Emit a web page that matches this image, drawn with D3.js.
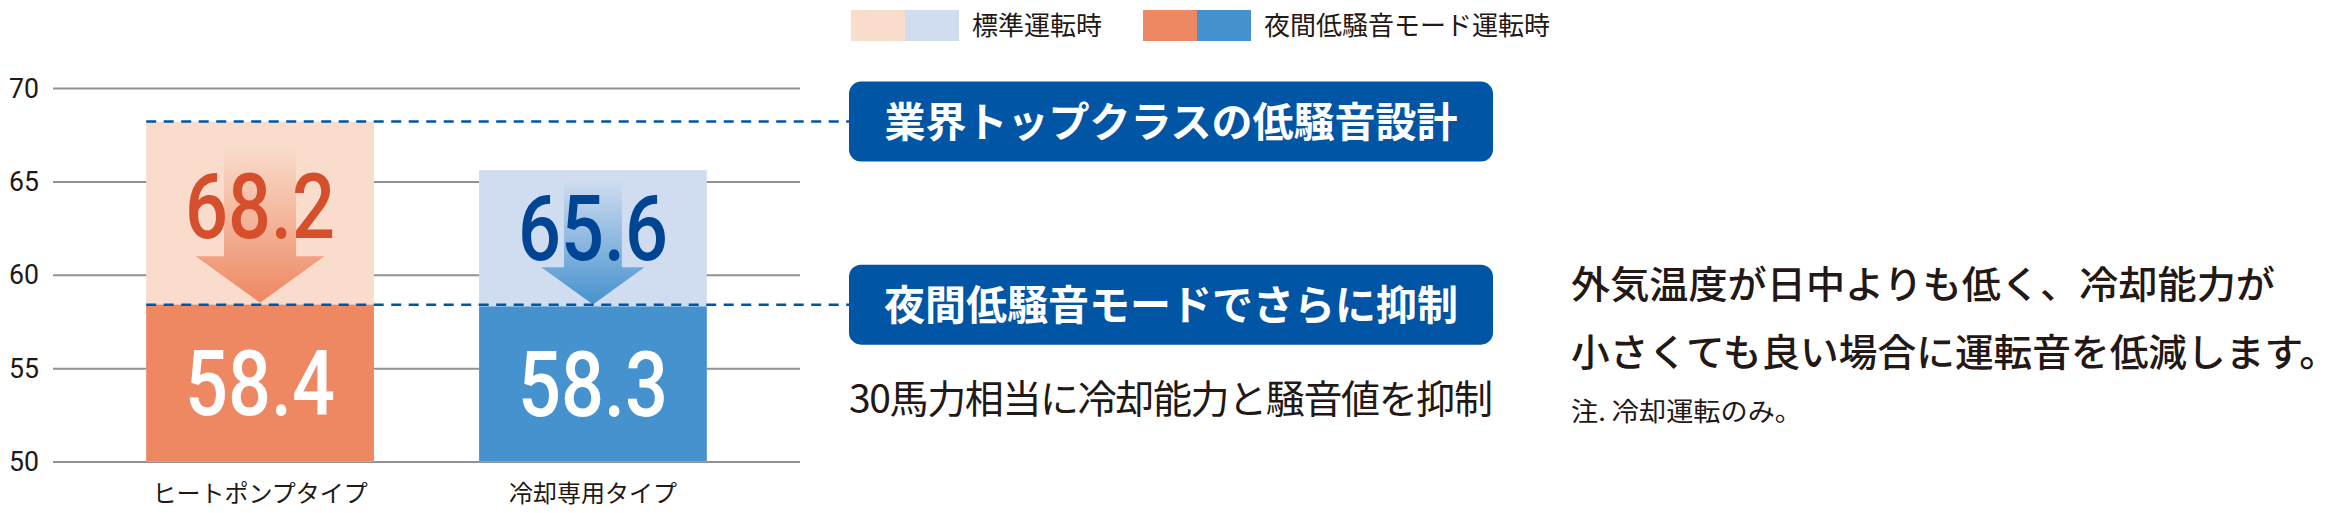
<!DOCTYPE html>
<html>
<head>
<meta charset="utf-8">
<script src="https://cdn.jsdelivr.net/npm/d3@7"></script>
<style>
    body { margin: 0; background: #fff; }
    text { font-family: "Noto Sans CJK JP", "Noto Sans", sans-serif; }
</style>
</head>
<body>
<div id="canvas"></div>
<script>
"use strict"

// chart values
const categories = ["ヒートポンプタイプ", "冷却専用タイプ"]
const standardValues = [68.2, 65.6]
const nightValues = [58.4, 58.3]
const yTicks = [50, 55, 60, 65, 70]
const legendLabels = ["標準運転時", "夜間低騒音モード運転時"]
const lightColors = ["#f9dccb", "#d0ddf0"]
const darkColors = ["#ee8862", "#4692cf"]
const numberColors = ["#d64f2c", "#004494"]
const callouts = ["業界トップクラスの低騒音設計", "夜間低騒音モードでさらに抑制"]
const calloutNote = "30馬力相当に冷却能力と騒音値を抑制"
const sideLines = ["外気温度が日中よりも低く、冷却能力が", "小さくても良い場合に運転音を低減します。"]
const sideNote = "注. 冷却運転のみ。"

let svgWidth = 2349
let svgHeight = 513
let inkColor = "#231815"
let boxColor = "#0055a5"

let svg = d3.select("#canvas")
    .append("svg")
    .attr("width", svgWidth)
    .attr("height", svgHeight)

svg.append("rect")
    .attr("width", svgWidth)
    .attr("height", svgHeight)
    .attr("fill", "#fff")

let xScale = d3.scaleBand()
    .domain(categories)
    .range([53, 800])
    .paddingInner(0.316)
    .paddingOuter(0.28)

let yScale = d3.scaleLinear()
    .domain([50, 70])
    .range([461.5, 88])

// gridlines + tick labels
let yAxis = svg.append("g")
    .attr("transform", "translate(53,0)")
    .call(d3.axisLeft(yScale)
        .tickValues(yTicks)
        .tickSize(-(800 - 53))
        .tickPadding(14))
yAxis.select(".domain").remove()
yAxis.selectAll(".tick line")
    .attr("stroke", "#929292")
    .attr("stroke-width", 2)
yAxis.selectAll(".tick text")
    .attr("fill", inkColor)
    .style("font-family", "Roboto, sans-serif")
    .style("font-size", "27px")
    .attr("textLength", 30)
    .attr("lengthAdjust", "spacingAndGlyphs")
    .attr("dy", "0.34em")

let xAxis = svg.append("g")
    .attr("transform", "translate(0,461.5)")
    .call(d3.axisBottom(xScale).tickSize(0).tickPadding(0))
xAxis.select(".domain").remove()
xAxis.selectAll(".tick text")
    .attr("fill", inkColor)
    .attr("y", 40)
    .attr("dy", 0)
    .style("font-size", "24px")

let rows = categories.map(function (c, i) {
    return { cat: c, std: standardValues[i], night: nightValues[i], i: i }
})

let defs = svg.append("defs")
rows.forEach(function (d) {
    let g = defs.append("linearGradient")
        .attr("id", "arrowGrad" + d.i)
        .attr("x1", 0).attr("y1", 0).attr("x2", 0).attr("y2", 1)
    g.append("stop").attr("offset", 0).attr("stop-color", darkColors[d.i]).attr("stop-opacity", 0)
    g.append("stop").attr("offset", 0.45).attr("stop-color", darkColors[d.i]).attr("stop-opacity", 0.45)
    g.append("stop").attr("offset", 1).attr("stop-color", darkColors[d.i]).attr("stop-opacity", 1)
})

// standard (light) bars
svg.selectAll("rect.std")
    .data(rows)
    .join("rect")
    .classed("std", true)
    .attr("x", d => xScale(d.cat))
    .attr("y", d => yScale(d.std))
    .attr("width", xScale.bandwidth())
    .attr("height", d => yScale(50) - yScale(d.std))
    .attr("fill", d => lightColors[d.i])

// night mode bars
svg.selectAll("rect.night")
    .data(rows)
    .join("rect")
    .classed("night", true)
    .attr("x", d => xScale(d.cat))
    .attr("y", d => yScale(d.night))
    .attr("width", xScale.bandwidth())
    .attr("height", d => yScale(50) - yScale(d.night))
    .attr("fill", d => darkColors[d.i])

function arrowGeom(d) {
    let cx = xScale(d.cat) + xScale.bandwidth() / 2
    let y0 = yScale(d.std)
    let y1 = yScale(d.night) - 2
    let span = y1 - y0
    let top = y0 + Math.max(10, span - 155)
    let len = y1 - top
    let headW = 0.83 * len
    let headH = 0.3 * len
    let shaftW = 0.56 * headW
    return { cx: cx, top: top, tip: y1, headW: headW, headH: headH, shaftW: shaftW }
}

svg.selectAll("path.arrow")
    .data(rows)
    .join("path")
    .classed("arrow", true)
    .attr("d", function (d) {
        let a = arrowGeom(d)
        let p = d3.path()
        p.moveTo(a.cx - a.shaftW / 2, a.top)
        p.lineTo(a.cx + a.shaftW / 2, a.top)
        p.lineTo(a.cx + a.shaftW / 2, a.tip - a.headH)
        p.lineTo(a.cx + a.headW / 2, a.tip - a.headH)
        p.lineTo(a.cx, a.tip)
        p.lineTo(a.cx - a.headW / 2, a.tip - a.headH)
        p.lineTo(a.cx - a.shaftW / 2, a.tip - a.headH)
        p.closePath()
        return p.toString()
    })
    .attr("fill", d => "url(#arrowGrad" + d.i + ")")

// big numbers
svg.selectAll("text.stdLabel")
    .data(rows)
    .join("text")
    .classed("stdLabel", true)
    .attr("x", d => xScale(d.cat) + xScale.bandwidth() / 2)
    .attr("y", function (d) {
        let a = arrowGeom(d)
        return (a.top + a.tip - a.headH) / 2 + 36
    })
    .attr("text-anchor", "middle")
    .attr("textLength", 150)
    .attr("lengthAdjust", "spacingAndGlyphs")
    .attr("fill", d => numberColors[d.i])
    .style("font-family", "Roboto, sans-serif")
    .style("font-weight", 500)
    .style("font-size", "90px")
    .text(d => d.std.toFixed(1))

svg.selectAll("text.nightLabel")
    .data(rows)
    .join("text")
    .classed("nightLabel", true)
    .attr("x", d => xScale(d.cat) + xScale.bandwidth() / 2)
    .attr("y", d => yScale(d.night) + 110)
    .attr("text-anchor", "middle")
    .attr("textLength", 150)
    .attr("lengthAdjust", "spacingAndGlyphs")
    .attr("fill", "#fff")
    .style("font-family", "Roboto, sans-serif")
    .style("font-weight", 500)
    .style("font-size", "90px")
    .text(d => d.night.toFixed(1))

// dashed reference lines and callout boxes
let refValues = [d3.max(standardValues), d3.max(nightValues)]
let boxLeft = 849
let boxWidth = 644
let boxHeight = 80

svg.selectAll("line.ref")
    .data(refValues)
    .join("line")
    .classed("ref", true)
    .attr("x1", xScale(categories[0]))
    .attr("x2", boxLeft)
    .attr("y1", d => yScale(d))
    .attr("y2", d => yScale(d))
    .attr("stroke", boxColor)
    .attr("stroke-width", 2.5)
    .attr("stroke-dasharray", "10,7.5")

svg.selectAll("rect.callout")
    .data(refValues)
    .join("rect")
    .classed("callout", true)
    .attr("x", boxLeft)
    .attr("y", d => yScale(d) - boxHeight / 2)
    .attr("width", boxWidth)
    .attr("height", boxHeight)
    .attr("rx", 12)
    .attr("fill", boxColor)

svg.selectAll("text.callout")
    .data(refValues)
    .join("text")
    .classed("callout", true)
    .attr("x", boxLeft + boxWidth / 2)
    .attr("y", d => yScale(d) + 15)
    .attr("text-anchor", "middle")
    .attr("fill", "#fff")
    .style("font-weight", 700)
    .style("font-size", "41px")
    .text((d, i) => callouts[i])

svg.append("text")
    .attr("x", boxLeft)
    .attr("y", yScale(refValues[1]) + 108)
    .attr("fill", inkColor)
    .style("font-size", "39px")
    .attr("textLength", boxWidth)
    .attr("lengthAdjust", "spacing")
    .text(calloutNote)

// legend
let legend = svg.append("g")
let legendX = [851, 1143]
let legendSets = [lightColors, darkColors]
legendLabels.forEach(function (label, i) {
    legendSets[i].forEach(function (c, j) {
        legend.append("rect")
            .attr("x", legendX[i] + j * 54)
            .attr("y", 10)
            .attr("width", 54)
            .attr("height", 31)
            .attr("fill", c)
    })
    legend.append("text")
        .attr("x", legendX[i] + 121)
        .attr("y", 35)
        .attr("fill", inkColor)
        .style("font-size", "26px")
        .text(label)
})

// side notes
let sideWidths = [704, 767]
svg.selectAll("text.side")
    .data(sideLines)
    .join("text")
    .classed("side", true)
    .attr("x", 1571)
    .attr("y", (d, i) => 298 + i * 68)
    .attr("fill", inkColor)
    .style("font-weight", 500)
    .style("font-size", "38px")
    .attr("textLength", (d, i) => sideWidths[i])
    .attr("lengthAdjust", "spacingAndGlyphs")
    .text(d => d)

svg.append("text")
    .attr("x", 1571)
    .attr("y", 421)
    .attr("fill", inkColor)
    .style("font-size", "26px")
    .attr("textLength", 231)
    .attr("lengthAdjust", "spacingAndGlyphs")
    .text(sideNote)
</script>
</body>
</html>
